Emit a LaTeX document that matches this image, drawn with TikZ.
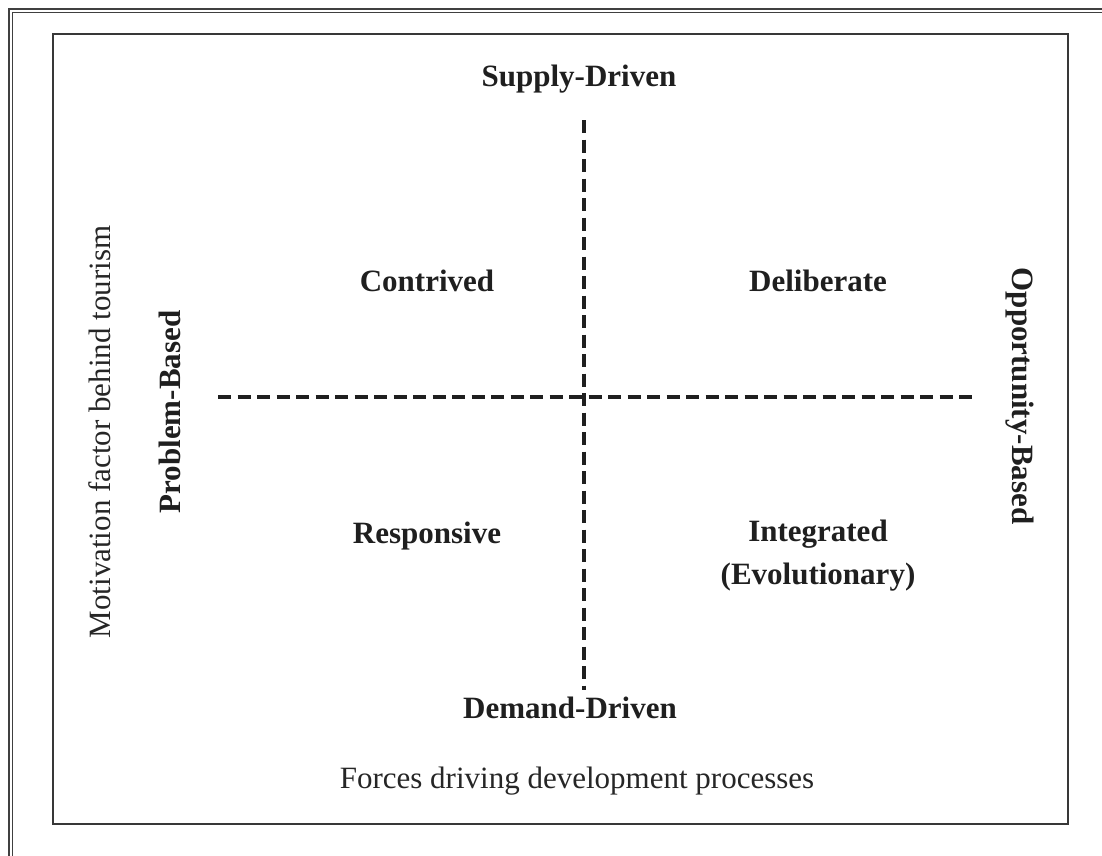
\documentclass[tikz,border=0pt]{standalone}
\usepackage{fontspec}
\setmainfont{Liberation Serif}
\begin{document}
\begin{tikzpicture}[x=1pt,y=-1pt,
  lbl/.style={inner sep=0pt,text=black!88,font=\fontsize{31}{43}\selectfont\bfseries,anchor=base,align=center},
  plain/.style={inner sep=0pt,text=black!85,font=\fontsize{31}{43}\selectfont,anchor=base},
  axis/.style={line width=3.2pt,black!88,dash pattern=on 13pt off 6.5pt},
  frame/.style={line width=1.6pt,black!75}]
\useasboundingbox (0,0) rectangle (1102,855);
\fill[white] (0,0) rectangle (1102,855);
% outer double frame (cropped)
\draw[frame] (9,9) rectangle (1120,880);
\draw[frame] (12.5,12.5) rectangle (1120,880);
% inner frame
\draw[line width=2.6pt,black!78] (53,34) rectangle (1068,824);
% axes
\coordinate (vt) at (584,120);
\coordinate (vb) at (584,690);
\coordinate (hl) at (218,397);
\coordinate (hr) at (975,397);
\draw[axis] (vt) -- (vb);
\draw[axis] (hl) -- (hr);
% labels
\node[lbl] (supply) at (579,86) {Supply-Driven};
\node[lbl] (demand) at (570,718) {Demand-Driven};
\node[lbl] (contrived) at (427,291) {Contrived};
\node[lbl] (deliberate) at (818,291) {Deliberate};
\node[lbl] (responsive) at (427,543) {Responsive};
\node[lbl,anchor=north] (integrated) at (818,520) {Integrated\\(Evolutionary)};
\node[lbl,rotate=90] (problem) at (180,412) {Problem-Based};
\node[lbl,rotate=-90] (opportunity) at (1012,396) {Opportunity-Based};
\node[plain,rotate=90] (motivation) at (110,432) {Motivation factor behind tourism};
\node[plain] (forces) at (577,788) {Forces driving development processes};
\end{tikzpicture}
\end{document}
